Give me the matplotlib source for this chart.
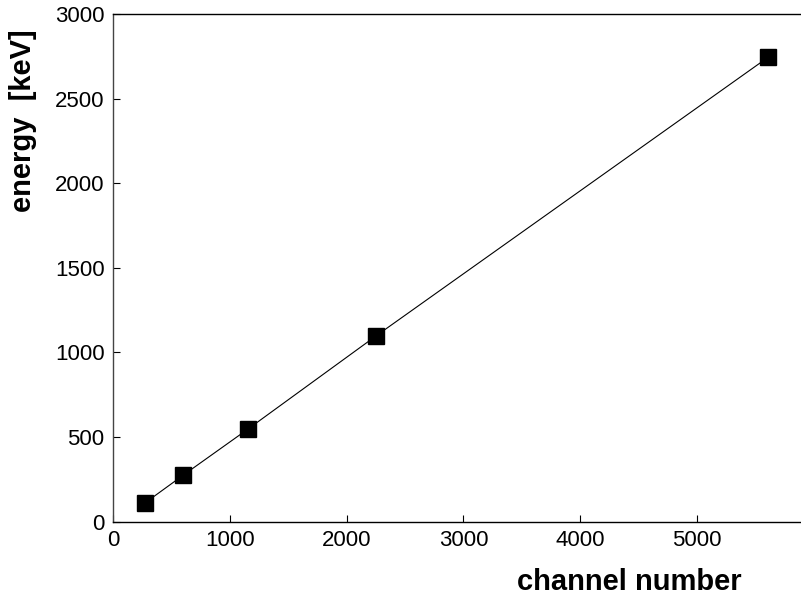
import matplotlib
matplotlib.use("Agg")
import matplotlib.pyplot as plt

# calibration points: channel -> gamma energy
channel = [271, 600, 1157, 2254, 5608]
energy = [108, 273, 547, 1098, 2744]

x_ticks = [0, 1000, 2000, 3000, 4000, 5000]
y_ticks = [0, 500, 1000, 1500, 2000, 2500, 3000]

plt.rcParams["font.family"] = ["Liberation Sans", "DejaVu Sans"]

fig = plt.figure(figsize=(8.01, 5.96), dpi=100)
ax = fig.add_axes([0.141, 0.125, 0.859, 0.8515])

ax.plot(channel, energy, color="black", linewidth=0.8,
        marker="s", markersize=11, markerfacecolor="black",
        markeredgecolor="black")

ax.set_xlim(0, 5890)
ax.set_ylim(0, 3000)
ax.set_xticks(x_ticks)
ax.set_yticks(y_ticks)
ax.tick_params(direction="in", length=5, width=0.8, labelsize=16, pad=6)
ax.spines["right"].set_visible(False)
for s in ["left", "bottom", "top"]:
    ax.spines[s].set_linewidth(1.0)
ax.spines["left"].set_color("#444444")

ax.text(0.751, -0.119, "channel number", transform=ax.transAxes,
        ha="center", va="center", fontsize=21, fontweight="bold")
ax.text(-0.13, 0.79, "energy  [keV]", transform=ax.transAxes,
        ha="center", va="center", rotation=90, fontsize=21, fontweight="bold")

fig.savefig("out.png", dpi=100)
